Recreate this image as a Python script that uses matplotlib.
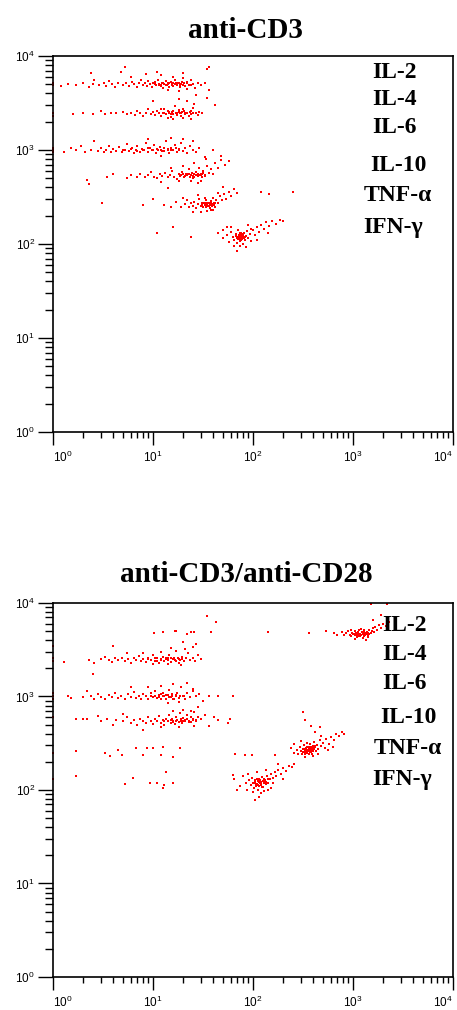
"""Dot plots of cytokine bead events: anti-CD3 vs anti-CD3/anti-CD28."""

import matplotlib
matplotlib.use("Agg")
import matplotlib.pyplot as plt
from matplotlib.ticker import LogLocator, NullFormatter

plt.rcParams["font.family"] = ["Liberation Sans", "DejaVu Sans"]

# --- labels ---
cytokines = ["IL-2", "IL-4", "IL-6", "IL-10", "TNF-\u03b1", "IFN-\u03b3"]
panel_titles = ["anti-CD3", "anti-CD3/anti-CD28"]
decades = [1, 10, 100, 1000, 10000]
decade_labels = [r"$\mathdefault{10^{0}}$", r"$\mathdefault{10^{1}}$", r"$\mathdefault{10^{2}}$",
                 r"$\mathdefault{10^{3}}$", r"$\mathdefault{10^{4}}$"]

# --- events: (FL2, FL3) per cluster ---
# anti-CD3
cd3_il2 = [(1.0, 4900), (1.0, 5100), (1.2, 4800), (1.4, 5000), (1.7, 4900), (2.0, 5200), (2.3, 4700),
           (2.5, 5000), (2.6, 5600), (2.9, 4900), (3.2, 5100), (3.4, 4800), (3.6, 5400), (3.9, 5000),
           (4.2, 4700), (4.5, 5200), (4.8, 6800), (5.0, 4900), (5.4, 5100), (5.8, 4800), (6.1, 5300),
           (6.5, 5000), (6.9, 4700), (7.2, 5100), (7.6, 5500), (8.0, 4900), (8.3, 5200), (8.7, 4800),
           (9.0, 5400), (9.3, 5000), (9.7, 4700), (10.0, 5100), (10.4, 5300), (10.8, 4900), (11.1, 5600),
           (11.5, 5000), (11.9, 4800), (12.2, 5200), (12.6, 4600), (13.0, 5000), (13.4, 5400), (13.8, 4900),
           (14.2, 5100), (14.6, 4700), (15.0, 5300), (15.5, 5000), (16.0, 4800), (16.5, 5500), (17.0, 5100),
           (17.5, 4900), (18.0, 5200), (18.6, 4700), (19.2, 5000), (19.8, 5800), (20.5, 5100), (21.0, 4800),
           (22.0, 5300), (23.0, 4900), (24.0, 5600), (25.0, 5000), (26.5, 4600), (28.0, 5200), (30.0, 4900),
           (33.0, 5100), (36.0, 4300), (6.0, 5900), (8.5, 6400), (12.0, 6200), (16.0, 6000), (20.0, 6600),
           (14.0, 4300), (18.0, 4200), (22.0, 4400), (27.0, 3800), (35.0, 7200), (11.0, 6700),
           (10.5, 5000), (11.5, 4850), (12.5, 5100), (13.5, 4950), (14.5, 5200), (15.5, 4850), (16.5, 5050),
           (17.5, 5150), (18.5, 4950), (19.5, 5250), (12.0, 4900), (14.0, 5050), (16.0, 5150), (20.0, 4950),
           (22.0, 5100), (24.0, 4850)]
cd3_il4 = [(1.0, 2500), (1.0, 2300), (1.6, 2400), (2.0, 2500), (2.5, 2400), (3.0, 2600), (3.3, 2400),
           (3.8, 2500), (4.3, 2450), (5.0, 2550), (5.5, 2400), (6.0, 2500), (6.6, 2350), (7.0, 2600),
           (7.5, 2450), (8.0, 2300), (8.6, 2500), (9.0, 2700), (9.5, 2400), (10.0, 2550), (10.5, 2350),
           (11.0, 2600), (11.5, 2450), (12.0, 2300), (12.5, 2500), (13.0, 2750), (13.5, 2400), (14.0, 2600),
           (14.5, 2450), (15.0, 2250), (15.5, 2550), (16.0, 2400), (16.5, 2900), (17.0, 2500), (17.5, 2350),
           (18.0, 2650), (18.5, 2450), (19.0, 2300), (19.5, 2550), (20.0, 2750), (21.0, 2400), (22.0, 2500),
           (23.0, 2300), (24.0, 2600), (25.0, 2450), (26.0, 3100), (27.0, 2500), (28.0, 2350), (29.0, 2550),
           (31.0, 2450), (22.0, 3300), (18.0, 3500), (25.0, 2800), (20.0, 2200), (14.0, 2200), (12.0, 2750),
           (16.0, 2150), (24.0, 2150), (35.0, 3600), (10.0, 3300),
           (13.0, 2500), (14.5, 2550), (16.0, 2600), (17.5, 2450), (19.0, 2500), (20.5, 2600), (22.0, 2450),
           (23.5, 2550), (15.0, 2400), (18.0, 2550), (21.0, 2500), (24.0, 2400)]
cd3_il6 = [(1.0, 1000), (1.0, 1050), (1.0, 950), (1.3, 950), (1.5, 1050), (1.7, 1000), (1.9, 1100),
           (2.1, 950), (2.4, 1000), (2.6, 1250), (2.8, 980), (3.0, 1050), (3.2, 940), (3.4, 1000),
           (3.6, 1100), (3.8, 960), (4.0, 1020), (4.3, 980), (4.6, 1080), (4.9, 940), (5.2, 1000),
           (5.5, 1150), (5.8, 970), (6.1, 1040), (6.4, 920), (6.7, 1000), (7.0, 1100), (7.4, 960),
           (7.8, 1030), (8.2, 990), (8.6, 1200), (9.0, 950), (9.4, 1050), (9.8, 1000), (10.3, 1130),
           (10.8, 930), (11.3, 1010), (11.8, 1080), (12.3, 970), (12.8, 1040), (13.4, 1250), (14.0, 990),
           (14.6, 920), (15.2, 1060), (15.8, 1000), (16.5, 1140), (17.2, 960), (18.0, 1030), (19.0, 1180),
           (20.0, 980), (21.0, 1050), (22.0, 930), (23.5, 1100), (25.0, 1000), (27.0, 950), (29.0, 1050),
           (20.0, 1300), (15.0, 1350), (25.0, 1250), (9.0, 1300), (33.0, 850), (12.0, 870),
           (5.0, 1000), (6.0, 1020), (7.0, 980), (8.0, 1010), (9.0, 1040), (10.0, 990), (11.0, 1020),
           (12.0, 1000), (13.0, 980), (14.0, 1030), (15.0, 1010), (16.0, 990), (17.0, 1050), (18.0, 1000)]
cd3_il10 = [(2.3, 430), (3.5, 520), (4.0, 560), (5.5, 500), (6.0, 540), (7.0, 520), (7.5, 560),
            (8.3, 510), (9.0, 540), (9.6, 580), (10.2, 520), (11.0, 500), (11.7, 550), (12.4, 530),
            (13.2, 570), (14.0, 510), (14.8, 540), (15.6, 600), (16.4, 520), (17.2, 490), (18.0, 550),
            (18.8, 530), (19.6, 580), (20.4, 510), (21.2, 560), (22.0, 540), (22.8, 620), (23.6, 520),
            (24.4, 570), (25.2, 500), (26.0, 550), (27.0, 590), (28.0, 530), (29.0, 650), (30.0, 560),
            (31.0, 510), (32.0, 600), (33.5, 540), (35.0, 680), (36.5, 570), (38.0, 620), (40.0, 550),
            (42.0, 720), (45.0, 640), (48.0, 780), (52.0, 700), (57.0, 760), (30.0, 470), (24.0, 470),
            (18.0, 470), (20.0, 680), (26.0, 720), (34.0, 800), (15.0, 640), (12.0, 460), (28.0, 450),
            (19.0, 540), (21.0, 530), (23.0, 550), (25.0, 530), (27.0, 545), (29.0, 535), (31.0, 555),
            (33.0, 525), (22.0, 560), (26.0, 520), (28.0, 560), (30.0, 540), (24.0, 545), (20.0, 555),
            (32.0, 575)]
cd3_tnf = [(10.0, 300), (13.0, 260), (15.0, 245), (17.0, 280), (19.0, 250), (21.0, 265), (22.0, 290),
           (23.0, 245), (24.0, 270), (25.0, 255), (26.0, 280), (27.0, 240), (28.0, 265), (29.0, 300),
           (30.0, 255), (31.0, 275), (32.0, 245), (33.0, 265), (34.0, 290), (35.0, 255), (36.0, 270),
           (37.0, 240), (38.0, 285), (39.0, 260), (40.0, 310), (41.0, 270), (42.0, 250), (43.0, 295),
           (45.0, 275), (47.0, 320), (49.0, 290), (51.0, 340), (54.0, 300), (57.0, 360), (60.0, 320),
           (64.0, 380), (70.0, 350), (30.0, 220), (35.0, 225), (40.0, 230), (28.0, 330), (45.0, 350),
           (33.0, 310), (38.0, 230), (50.0, 400), (25.0, 220), (120.0, 360), (20.0, 310),
           (31.0, 262), (32.0, 270), (33.0, 258), (34.0, 266), (35.0, 262), (36.0, 276), (37.0, 258),
           (38.0, 268), (39.0, 252), (40.0, 264), (34.0, 248), (36.0, 252), (38.0, 278), (41.0, 260),
           (33.0, 276), (35.0, 270), (37.0, 266), (42.0, 272)]
cd3_ifn = [(45.0, 130), (50.0, 115), (55.0, 125), (58.0, 105), (60.0, 135), (63.0, 118), (65.0, 110),
           (67.0, 128), (69.0, 120), (70.0, 102), (71.0, 140), (72.0, 115), (73.0, 125), (74.0, 108),
           (75.0, 120), (76.0, 132), (77.0, 112), (78.0, 124), (79.0, 100), (80.0, 118), (82.0, 130),
           (84.0, 110), (86.0, 122), (88.0, 138), (90.0, 115), (93.0, 128), (96.0, 108), (100.0, 140),
           (105.0, 125), (110.0, 150), (115.0, 135), (120.0, 160), (128.0, 145), (135.0, 170), (145.0, 155),
           (155.0, 175), (170.0, 165), (185.0, 180), (200.0, 175), (60.0, 150), (75.0, 95), (85.0, 92),
           (65.0, 95), (95.0, 145), (140.0, 130), (110.0, 110), (55.0, 150), (90.0, 160), (70.0, 85),
           (50.0, 140),
           (68.0, 122), (70.0, 118), (72.0, 126), (73.0, 112), (74.0, 130), (75.0, 116), (76.0, 124),
           (77.0, 119), (78.0, 113), (79.0, 127), (80.0, 121), (81.0, 115), (72.0, 120), (76.0, 110),
           (74.0, 122), (78.0, 125), (71.0, 113), (80.0, 128), (83.0, 120), (69.0, 116)]
cd3_other = [(3.1, 270), (2.2, 480), (11.0, 130), (24.0, 120), (145.0, 340), (250.0, 355), (36.0, 7600),
             (5.2, 7600), (2.4, 6600), (14.0, 390), (8.0, 260), (16.0, 150), (42.0, 3000), (40.0, 1000),
             (48.0, 870)]

# anti-CD3/anti-CD28
cd28_il2 = [(700, 4600), (780, 4900), (820, 4500), (860, 4800), (900, 5000), (930, 4600), (960, 4400),
            (990, 4800), (1020, 4650), (1050, 5000), (1080, 4500), (1100, 4750), (1130, 4900), (1160, 4400),
            (1190, 4700), (1210, 4550), (1240, 4850), (1270, 4650), (1300, 5100), (1330, 4500), (1360, 4800),
            (1390, 4950), (1420, 4600), (1460, 5200), (1500, 4800), (1540, 5000), (1580, 5400), (1620, 4900),
            (1680, 5600), (1750, 5200), (1820, 5800), (1900, 5400), (2000, 6000), (2150, 5700), (2300, 6300),
            (1100, 4300), (1250, 4200), (1400, 4350), (950, 5200), (1200, 5300), (1050, 4150), (1350, 4000),
            (1600, 6500), (1900, 7500), (1500, 9800), (2200, 9700), (1300, 4450), (1150, 5100), (140, 4900),
            (360, 4800), (540, 5000), (650, 4800),
            (1000, 4700), (1050, 4600), (1100, 4650), (1150, 4700), (1200, 4600), (1250, 4750), (1300, 4650),
            (1350, 4700), (1400, 4800), (1450, 4700), (1120, 4500), (1220, 4850), (1320, 4550), (1080, 4800),
            (1180, 4400), (1280, 4950)]
cd28_il4 = [(1.0, 2400), (1.0, 2600), (1.3, 2350), (2.3, 2450), (2.6, 2300), (3.0, 2500), (3.3, 2650),
            (3.6, 2450), (3.9, 2350), (4.2, 2550), (4.5, 2450), (4.9, 2600), (5.2, 2400), (5.6, 2500),
            (6.0, 2300), (6.4, 2550), (6.8, 2450), (7.2, 2700), (7.6, 2400), (8.0, 2500), (8.5, 2350),
            (9.0, 2600), (9.5, 2450), (10.0, 2750), (10.5, 2400), (11.0, 2550), (11.5, 2300), (12.0, 2500),
            (12.5, 2650), (13.0, 2400), (13.5, 2550), (14.0, 2450), (14.6, 2800), (15.2, 2350), (15.8, 2500),
            (16.4, 2600), (17.0, 2400), (17.6, 2550), (18.2, 2300), (18.8, 2450), (19.5, 2650), (20.5, 2400),
            (21.5, 2550), (22.5, 2900), (23.5, 2450), (25.0, 2600), (26.5, 2400), (28.0, 2750), (30.0, 2500),
            (15.0, 3300), (17.0, 3100), (12.0, 3000), (25.0, 3400), (21.0, 3200), (8.0, 2950), (5.5, 2950),
            (4.0, 3500), (10.0, 2200), (14.0, 2200), (19.0, 2150), (22.0, 4700), (26.0, 4900), (20.0, 3800),
            (27.0, 3600), (2.5, 1750),
            (9.0, 2500), (10.5, 2550), (12.0, 2450), (13.5, 2500), (15.0, 2550), (16.5, 2450), (18.0, 2500),
            (19.5, 2500), (11.0, 2400), (14.0, 2600)]
cd28_il6 = [(1.0, 1000), (1.0, 950), (1.0, 1080), (1.4, 1000), (1.5, 960), (2.0, 980), (2.4, 1020),
            (2.6, 950), (2.8, 1060), (3.0, 990), (3.3, 940), (3.6, 1030), (3.9, 980), (4.2, 1080),
            (4.5, 960), (4.8, 1010), (5.2, 940), (5.6, 1050), (6.0, 990), (6.4, 1120), (6.8, 970),
            (7.2, 1020), (7.6, 950), (8.0, 1060), (8.5, 1000), (9.0, 930), (9.5, 1080), (10.0, 990),
            (10.5, 1150), (11.0, 970), (11.5, 1030), (12.0, 950), (12.5, 1090), (13.0, 1000), (13.5, 940),
            (14.0, 1040), (14.5, 1180), (15.0, 980), (15.6, 1060), (16.2, 930), (16.8, 1020), (17.5, 1100),
            (18.2, 970), (19.0, 1250), (20.0, 1010), (21.0, 940), (22.0, 1080), (23.5, 990), (25.0, 1150),
            (27.0, 1000), (29.0, 1050), (9.0, 1250), (12.0, 1300), (16.0, 1350), (18.0, 870), (14.0, 860),
            (22.0, 1400), (6.0, 1250), (32.0, 900), (45.0, 1000), (2.2, 1150), (25.0, 1200),
            (9.5, 1000), (10.5, 1020), (11.5, 990), (12.5, 1010), (13.5, 1040), (14.5, 980), (15.5, 1000),
            (17.0, 1030), (18.5, 1010), (20.5, 1000), (12.0, 1060), (16.0, 950)]
cd28_il10 = [(1.7, 580), (2.0, 580), (2.2, 580), (2.8, 620), (3.0, 540), (3.5, 580), (4.0, 500),
             (4.3, 560), (5.0, 540), (5.5, 600), (6.0, 520), (6.5, 560), (7.0, 500), (7.5, 580),
             (8.0, 540), (8.5, 520), (9.0, 600), (9.5, 550), (10.0, 510), (10.5, 570), (11.0, 540),
             (11.5, 620), (12.0, 520), (12.5, 560), (13.0, 500), (13.5, 580), (14.0, 540), (14.5, 640),
             (15.0, 520), (15.5, 570), (16.0, 550), (16.5, 510), (17.0, 600), (17.5, 560), (18.0, 530),
             (18.5, 660), (19.0, 570), (19.5, 520), (20.0, 590), (21.0, 550), (22.0, 640), (23.0, 530),
             (24.0, 600), (25.0, 560), (26.0, 680), (27.0, 540), (28.0, 610), (30.0, 570), (33.0, 640),
             (20.0, 720), (24.0, 700), (16.0, 700), (12.0, 470), (18.0, 470), (26.0, 480), (8.0, 440),
             (5.0, 650), (28.0, 780), (36.0, 480),
             (13.0, 540), (15.0, 560), (17.0, 540), (19.0, 550), (21.0, 560), (23.0, 545), (25.0, 570),
             (27.0, 555), (16.0, 530), (20.0, 540), (24.0, 530), (22.0, 580)]
cd28_tnf = [(240, 280), (260, 250), (275, 270), (285, 240), (295, 290), (300, 260), (310, 245),
            (315, 275), (320, 255), (325, 300), (330, 265), (335, 240), (340, 280), (345, 260),
            (350, 250), (355, 290), (360, 270), (365, 245), (370, 310), (375, 265), (380, 280),
            (385, 255), (390, 240), (395, 295), (400, 270), (410, 325), (420, 285), (430, 260),
            (440, 300), (450, 275), (465, 340), (480, 295), (500, 320), (520, 280), (540, 350),
            (570, 310), (600, 370), (640, 340), (680, 400), (720, 380), (780, 420), (820, 400),
            (300, 330), (350, 320), (400, 230), (330, 225), (450, 240), (260, 310), (560, 270),
            (380, 480), (330, 560), (320, 690), (420, 420), (480, 380), (630, 290),
            (330, 272), (340, 262), (350, 270), (360, 258), (370, 275), (380, 265), (390, 270),
            (400, 280), (345, 285), (355, 262), (365, 282), (375, 252), (385, 290), (395, 262),
            (410, 275), (335, 255), (360, 290), (420, 295)]
cd28_ifn = [(65, 130), (75, 110), (80, 140), (85, 118), (88, 100), (92, 128), (95, 112), (98, 135),
            (100, 120), (102, 105), (105, 125), (107, 115), (110, 132), (112, 100), (114, 122), (116, 110),
            (118, 128), (120, 118), (123, 138), (126, 108), (130, 125), (134, 115), (138, 140), (142, 120),
            (147, 130), (152, 150), (158, 135), (165, 155), (172, 140), (180, 165), (190, 150), (200, 170),
            (215, 160), (230, 180), (245, 175), (260, 190), (100, 95), (120, 92), (130, 98), (90, 150),
            (110, 155), (140, 100), (160, 118), (150, 105), (70, 100), (115, 85), (105, 78), (200, 130),
            (180, 190), (135, 162),
            (102, 118), (106, 122), (110, 116), (113, 126), (117, 120), (121, 112), (125, 124), (129, 118),
            (133, 128), (108, 110), (115, 130), (124, 108), (119, 122), (104, 128), (128, 132), (112, 114),
            (136, 122), (140, 130)]
cd28_other = [(1.7, 260), (1.7, 140), (3.3, 250), (3.7, 230), (4.5, 265), (4.9, 237), (6.8, 280),
              (7.9, 237), (8.7, 280), (10.0, 280), (12.0, 237), (12.5, 290), (16.0, 225), (18.6, 280),
              (13.5, 155), (6.3, 135), (5.2, 115), (9.3, 120), (11.0, 118), (13.0, 113), (12.6, 105),
              (16.0, 120), (63.0, 1000), (66.0, 240), (63.0, 145), (59.0, 580), (56.0, 520), (45.0, 560),
              (41.0, 600), (36.0, 1000), (38.0, 4900), (35.0, 7200), (43.0, 6300), (10.2, 4800),
              (12.5, 4900), (16.6, 5000), (24.0, 4900), (17.0, 5000), (83.0, 237), (98.0, 237),
              (166.0, 237), (470.0, 470), (1.0, 600), (1.0, 250), (1.0, 130), (1.0, 3500)]

panels = [
    [cd3_il2, cd3_il4, cd3_il6, cd3_il10, cd3_tnf, cd3_ifn, cd3_other],
    [cd28_il2, cd28_il4, cd28_il6, cd28_il10, cd28_tnf, cd28_ifn, cd28_other],
]

# label placement (axes fraction) for each panel
label_x = [[0.853, 0.853, 0.853, 0.863, 0.863, 0.850],
           [0.878, 0.880, 0.880, 0.890, 0.888, 0.873]]
label_y = [[0.957, 0.883, 0.809, 0.710, 0.628, 0.543],
           [0.939, 0.861, 0.786, 0.693, 0.610, 0.529]]


def style_axis(ax):
    ax.set_xscale("log")
    ax.set_yscale("log")
    ax.set_xlim(1, 1e4)
    ax.set_ylim(1, 1e4)
    for sp in ax.spines.values():
        sp.set_linewidth(1.2)
    ax.set_xticks(decades)
    ax.set_xticklabels(decade_labels)
    ax.set_yticks(decades)
    ax.set_yticklabels(decade_labels)
    ax.xaxis.set_minor_locator(LogLocator(base=10, subs=range(2, 10), numticks=10))
    ax.yaxis.set_minor_locator(LogLocator(base=10, subs=range(2, 10), numticks=10))
    ax.xaxis.set_minor_formatter(NullFormatter())
    ax.yaxis.set_minor_formatter(NullFormatter())
    ax.tick_params(axis="y", which="major", direction="out", length=11, width=1.0, labelsize=8.5, pad=2)
    ax.tick_params(axis="y", which="minor", direction="out", length=5.5, width=1.0)
    ax.tick_params(axis="x", which="major", direction="out", length=9, width=1.0, labelsize=8.5, pad=4)
    ax.tick_params(axis="x", which="minor", direction="out", length=4, width=1.0)
    # keep the end labels inside the figure, as in the original
    xlabels = ax.get_xticklabels()
    xlabels[0].set_horizontalalignment("left")
    xlabels[-1].set_horizontalalignment("right")


fig = plt.figure(figsize=(4.57, 10.10), dpi=100)
ax_top = fig.add_axes([0.116, 0.5723, 0.875, 0.3723])
ax_bot = fig.add_axes([0.116, 0.0327, 0.875, 0.3703])
title_y = [1 - 30 / 1010, 1 - 575 / 1010]

for k, (ax, clusters) in enumerate(zip([ax_top, ax_bot], panels)):
    style_axis(ax)
    for pts in clusters:
        xs = [p[0] for p in pts]
        ys = [p[1] for p in pts]
        ax.plot(xs, ys, "s", ms=2.0, mew=0, color="#ff0000", clip_on=False)
    for name, lx, ly in zip(cytokines, label_x[k], label_y[k]):
        ax.text(lx, ly, name, transform=ax.transAxes, ha="center", va="center",
                fontsize=17, fontweight="bold", family=["Liberation Serif", "DejaVu Serif"])
    fig.text(0.538, title_y[k], panel_titles[k], ha="center", va="center",
             fontsize=21, fontweight="bold", family=["Liberation Serif", "DejaVu Serif"])

fig.savefig("out.png", dpi=100)
